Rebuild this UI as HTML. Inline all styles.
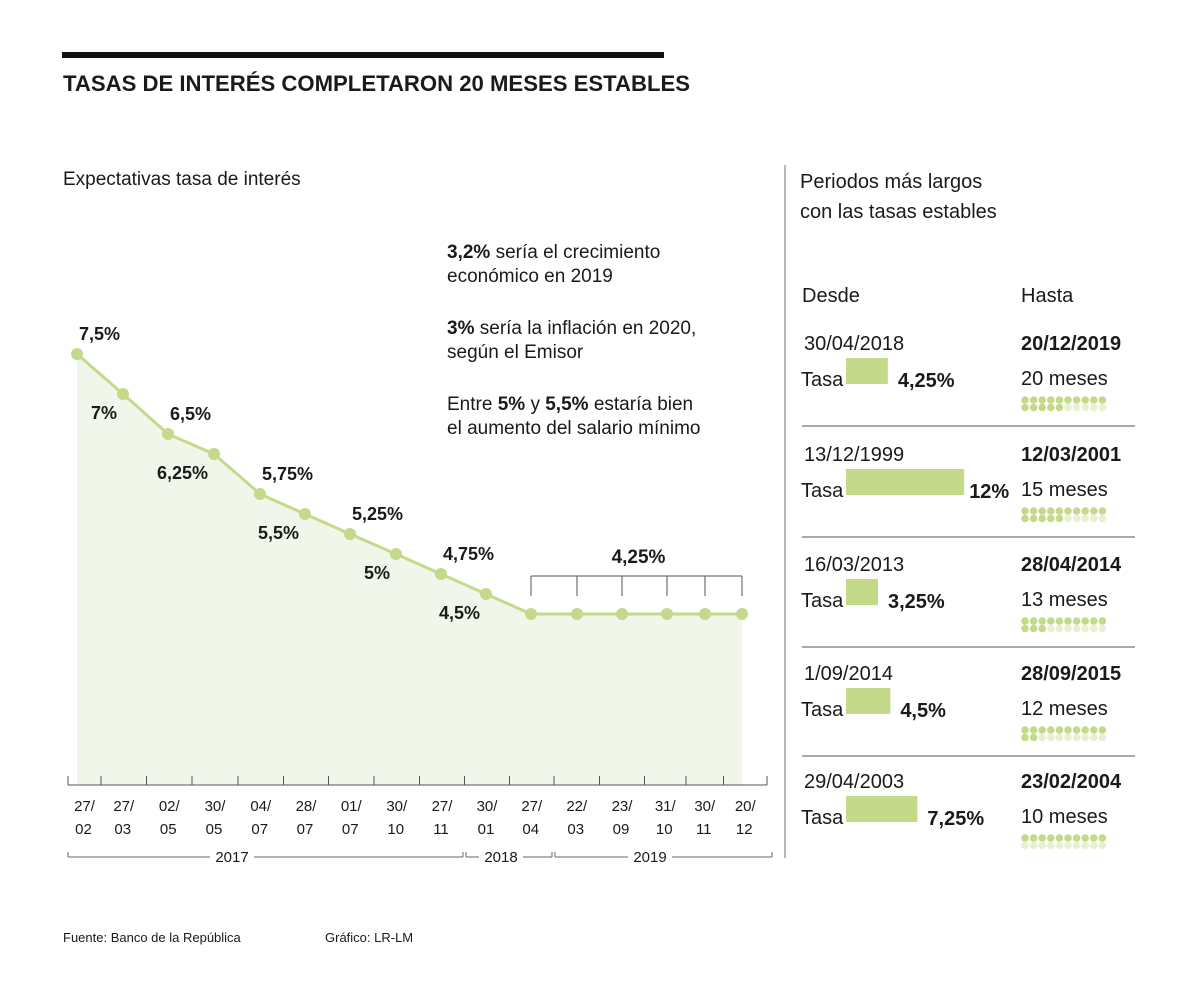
<!DOCTYPE html>
<html><head><meta charset="utf-8"><style>
body{margin:0;background:#fff;}
svg text{font-family:"Liberation Sans",sans-serif;fill:#1a1a1a;}
</style></head><body>
<svg width="1200" height="993" viewBox="0 0 1200 993" xmlns="http://www.w3.org/2000/svg">
<rect x="62" y="52" width="602" height="6" fill="#111"/>
<text x="63" y="91" font-size="22" font-weight="bold" textLength="627" lengthAdjust="spacingAndGlyphs">TASAS DE INTERÉS COMPLETARON 20 MESES ESTABLES</text>
<text x="63" y="185" font-size="19">Expectativas tasa de interés</text>
<g font-size="19">
<text x="447" y="258"><tspan font-weight="bold">3,2%</tspan> sería el crecimiento</text>
<text x="447" y="282">económico en 2019</text>
<text x="447" y="334"><tspan font-weight="bold">3%</tspan> sería la inflación en 2020,</text>
<text x="447" y="358">según el Emisor</text>
<text x="447" y="410">Entre <tspan font-weight="bold">5%</tspan> y <tspan font-weight="bold">5,5%</tspan> estaría bien</text>
<text x="447" y="434">el aumento del salario mínimo</text>
</g>
<g id="chart"></g>
<line x1="785" y1="165" x2="785" y2="858" stroke="#888" stroke-width="1.2"/>
<text x="800" y="188" font-size="20">Periodos más largos</text>
<text x="800" y="218" font-size="20">con las tasas estables</text>
<text x="802" y="302" font-size="20">Desde</text>
<text x="1021" y="302" font-size="20">Hasta</text>
<g id="panel"></g>
<text x="63" y="942" font-size="13">Fuente: Banco de la República</text>
<text x="325" y="942" font-size="13">Gráfico: LR-LM</text>
</svg>
<script>
const dateTop=["27/","27/","02/","30/","04/","28/","01/","30/","27/","30/","27/","22/","23/","31/","30/","20/"];
const dateBot=["02","03","05","05","07","07","07","10","11","01","04","03","09","10","11","12"];
const rates=[7.5,7,6.5,6.25,5.75,5.5,5.25,5,4.75,4.5,4.25,4.25,4.25,4.25,4.25,4.25];
const rateLabels=["7,5%","7%","6,5%","6,25%","5,75%","5,5%","5,25%","5%","4,75%","4,5%","","","","","",""];
const pointX=[77,123,168,214,260,305,350,396,441,486,531,577,622,667,705,742];

const desde=["30/04/2018","13/12/1999","16/03/2013","1/09/2014","29/04/2003"];
const hasta=["20/12/2019","12/03/2001","28/04/2014","28/09/2015","23/02/2004"];
const tasa=[4.25,12,3.25,4.5,7.25];
const tasaLabels=["4,25%","12%","3,25%","4,5%","7,25%"];
const meses=[20,15,13,12,10];
const darkDots=[15,15,13,12,10];

const NS="http://www.w3.org/2000/svg";
function mk(tag,attrs,parent,txt){const e=document.createElementNS(NS,tag);for(const k in attrs)e.setAttribute(k,attrs[k]);if(txt!==undefined)e.textContent=txt;parent.appendChild(e);return e;}
const yS=v=>614-(v-4.25)*80;
const ch=document.getElementById('chart');
const base=785;
let d="M"+pointX[0]+","+base;
rates.forEach((v,i)=>d+=" L"+pointX[i]+","+yS(v));
d+=" L"+pointX[pointX.length-1]+","+base+" Z";
const area=mk('path',{d:d,fill:"#f1f6ea"},ch);


const line=mk('polyline',{points:rates.map((v,i)=>pointX[i]+","+yS(v)).join(" "),fill:"none",stroke:"#c5d98a","stroke-width":3},ch);


const fx0=pointX[10],fx1=pointX[15];
mk('line',{x1:fx0,y1:576,x2:fx1,y2:576,stroke:"#555","stroke-width":1},ch);
for(let i=10;i<16;i++)mk('line',{x1:pointX[i],y1:576,x2:pointX[i],y2:596,stroke:"#555","stroke-width":1},ch);
const fl=mk('text',{x:(fx0+fx1)/2+2,y:563,"font-size":19,"font-weight":"bold","text-anchor":"middle"},ch,"4,25%");


rates.forEach((v,i)=>{
 const c=mk('circle',{cx:pointX[i],cy:yS(v),r:6,fill:"#c5d98a"},ch);
 
 
 if(rateLabels[i]){
  const above=i%2==0;
  const t=mk('text',{x:above?pointX[i]+2:pointX[i]-6,y:yS(v)+(above?-14:25),"font-size":18,"font-weight":"bold","text-anchor":above?"start":"end"},ch,rateLabels[i]);
  
  
 }
});
mk('line',{x1:68,y1:base,x2:767,y2:base,stroke:"#555","stroke-width":1},ch);
const ticks=[68];
for(let i=0;i<pointX.length-1;i++)ticks.push((pointX[i]+pointX[i+1])/2+(i<10?1:0));
ticks.push(767);
ticks.forEach(x=>mk('line',{x1:x,y1:base-9,x2:x,y2:base,stroke:"#555","stroke-width":1},ch));
dateTop.forEach((s,i)=>{
 const cx=(ticks[i]+ticks[i+1])/2;
 const t1=mk('text',{x:cx,y:811,"font-size":15,"text-anchor":"middle",fill:"#333"},ch,s);
 
 
 const t2=mk('text',{x:cx-1,y:834,"font-size":15,"text-anchor":"middle",fill:"#333"},ch,dateBot[i]);
 
 
});
const yb=[[68,463,"2017",232],[466,552,"2018",501],[555,772,"2019",650]];
yb.forEach(b=>{
 const ym=857;
 mk('line',{x1:b[0],y1:ym-5,x2:b[0],y2:ym,stroke:"#666"},ch);
 mk('line',{x1:b[1],y1:ym-5,x2:b[1],y2:ym,stroke:"#666"},ch);
 mk('line',{x1:b[0],y1:ym,x2:b[3]-22,y2:ym,stroke:"#666"},ch);
 mk('line',{x1:b[3]+22,y1:ym,x2:b[1],y2:ym,stroke:"#666"},ch);
 const t=mk('text',{x:b[3],y:862,"font-size":15,"text-anchor":"middle",fill:"#333"},ch,b[2]);
 
 
});
const pn=document.getElementById('panel');
const rowY=[330,441,551,660,768];
const bS=v=>v*9.85;
rowY.forEach((y0,i)=>{
 const g=mk('g',{},pn);
 
 
 mk('text',{x:804,y:y0+20,"font-size":20,fill:"#333"},g,desde[i]);
 mk('text',{x:1021,y:y0+20,"font-size":20,"font-weight":"bold"},g,hasta[i]);
 mk('text',{x:801,y:y0+56,"font-size":20,fill:"#333"},g,"Tasa");
 const bw=bS(tasa[i]);
 const bar=mk('rect',{x:846,y:y0+28,width:bw,height:26,fill:"#c5d98a"},g);
 
 
 mk('text',{x:846+bw+(i==1?5:10),y:y0+57,"font-size":20,"font-weight":"bold"},g,tasaLabels[i]);
 mk('text',{x:1021,y:y0+55,"font-size":20,fill:"#333"},g,meses[i]+" meses");
 for(let k=0;k<20;k++){
  const r=Math.floor(k/10),c=k%10;
  mk('circle',{cx:1025+c*8.6,cy:y0+70+r*7.5,r:3.8,fill:k<darkDots[i]?"#c5d98a":"#e9f0d2"},g);
 }
 if(i<4)mk('line',{x1:802,y1:y0+96,x2:1135,y2:y0+96,stroke:"#777","stroke-width":1.2},g);
});
</script>
</body></html>
